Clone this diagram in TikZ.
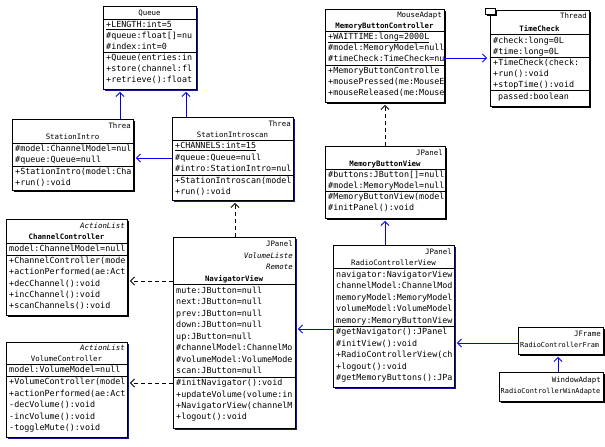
\documentclass[tikz,border=0pt]{standalone}
\usepackage{fontspec}
\newfontfamily\umlfont{DejaVu Sans Mono}
\usetikzlibrary{arrows.meta,fit,shadows}
\definecolor{lnblue}{RGB}{0,0,235}
\definecolor{shblue}{RGB}{20,20,150}
\begin{document}
\begin{tikzpicture}[x=1pt,y=-1pt,
  box/.style={draw=black, line width=0.9pt, fill=white, inner sep=0pt},
  shk/.style={general shadow={fill=black, shadow xshift=1.6pt, shadow yshift=-1.6pt}},
  shb/.style={general shadow={fill=shblue, shadow xshift=1.6pt, shadow yshift=-1.6pt}},
  sep/.style={draw=black, line width=0.9pt},
  mem/.style={anchor=west, inner sep=0pt, font=\fontsize{8.4}{10}\selectfont\umlfont, text height=6pt, text depth=1.5pt},
  hd/.style={anchor=center, inner sep=0pt, font=\fontsize{7.4}{9}\selectfont\umlfont, text height=5.5pt, text depth=1.5pt},
  hdr/.style={hd, anchor=east},
  hdl/.style={hd, anchor=west},
  small/.style={font=\fontsize{6.9}{8}\selectfont\umlfont},
  assoc/.style={draw=lnblue, line width=0.9pt, -{Straight Barb[length=4pt,width=8pt]}, shorten >=2.5pt},
  dep/.style={draw=black, line width=0.9pt, dash pattern=on 4pt off 3pt, -{Straight Barb[length=4pt,width=8pt]}, shorten >=2.5pt},
]
\useasboundingbox (0,0) rectangle (605,447);

% ---------- boxes ----------
\node[box, shb, fit={(103,6) (196,89)}] (queue) {};
\node[box, shk, fit={(12,119) (133,190)}] (si) {};
\node[box, shb, fit={(172,117) (293,200)}] (sis) {};
\node[box, shk, fit={(325,9) (444,102)}] (mbc) {};
\node[box, shk, fit={(490,10) (589,106)}] (tc) {};
\node[box, shk, fit={(485,8) (495,14)}] (tcicon) {};
\node[box, shk, fit={(325,146) (445,218)}] (mbv) {};
\node[box, shk, fit={(6,219) (127,315)}] (cc) {};
\node[box, shb, fit={(173,237) (295,428)}] (nav) {};
\node[box, shb, fit={(6,342) (127,437)}] (vc) {};
\node[box, shb, fit={(333,245) (454,387)}] (rcv) {};
\node[box, shk, fit={(518,327) (603,354)}] (rcf) {};
\node[box, shk, fit={(499,372) (603,401)}] (rcw) {};

% ---------- compartments ----------
\draw[sep] (queue.west |- 0,19) -- (queue.east |- 0,19);
\draw[sep] (queue.west |- 0,52) -- (queue.east |- 0,52);
\draw[sep] (si.west |- 0,143) -- (si.east |- 0,143);
\draw[sep] (si.west |- 0,166) -- (si.east |- 0,166);
\draw[sep] (sis.west |- 0,140) -- (sis.east |- 0,140);
\draw[sep] (sis.west |- 0,175) -- (sis.east |- 0,175);
\draw[sep] (mbc.west |- 0,31) -- (mbc.east |- 0,31);
\draw[sep] (mbc.west |- 0,65) -- (mbc.east |- 0,65);
\draw[sep] (tc.west |- 0,34) -- (tc.east |- 0,34);
\draw[sep] (tc.west |- 0,57) -- (tc.east |- 0,57);
\draw[sep] (tc.west |- 0,90) -- (tc.east |- 0,90);
\draw[sep] (mbv.west |- 0,169) -- (mbv.east |- 0,169);
\draw[sep] (mbv.west |- 0,191) -- (mbv.east |- 0,191);
\draw[sep] (cc.west |- 0,243) -- (cc.east |- 0,243);
\draw[sep] (cc.west |- 0,255) -- (cc.east |- 0,255);
\draw[sep] (nav.west |- 0,284) -- (nav.east |- 0,284);
\draw[sep] (nav.west |- 0,377) -- (nav.east |- 0,377);
\draw[sep] (vc.west |- 0,364) -- (vc.east |- 0,364);
\draw[sep] (vc.west |- 0,376) -- (vc.east |- 0,376);
\draw[sep] (rcv.west |- 0,268) -- (rcv.east |- 0,268);
\draw[sep] (rcv.west |- 0,326) -- (rcv.east |- 0,326);

% ---------- texts ----------
\begin{scope}
\clip (queue.north west) rectangle (queue.south east);
\node[hd] (q0) at (149.5,13) {Queue};
\node[mem] (q1) at (106,25) {\underline{+LENGTH:int=5}};
\node[mem] (q2) at (106,36) {\#queue:float[]=nu};
\node[mem] (q3) at (106,47) {\#index:int=0};
\node[mem] (q4) at (106,58) {+Queue(entries:in};
\node[mem] (q5) at (106,69) {+store(channel:fl};
\node[mem] (q6) at (106,80) {+retrieve():float};
\end{scope}

\begin{scope}
\clip (si.north west) rectangle (si.south east);
\node[hdr] (si0) at (131,126) {Threa};
\node[hd] (si1) at (72.5,137) {StationIntro};
\node[mem] (si2) at (15,149) {\#model:ChannelModel=nul};
\node[mem] (si3) at (15,160) {\#queue:Queue=null};
\node[mem] (si4) at (15,172) {+StationIntro(model:Cha};
\node[mem] (si5) at (15,183) {+run():void};
\end{scope}

\begin{scope}
\clip (sis.north west) rectangle (sis.south east);
\node[hdr] (sis0) at (291,124) {Threa};
\node[hd] (sis1) at (232.5,135) {StationIntroscan};
\node[mem] (sis2) at (175,146) {\underline{+CHANNELS:int=15}};
\node[mem] (sis3) at (175,158) {\#queue:Queue=null};
\node[mem] (sis4) at (175,169) {\#intro:StationIntro=nul};
\node[mem] (sis5) at (175,181) {+StationIntroscan(model};
\node[mem] (sis6) at (175,192) {+run():void};
\end{scope}

\begin{scope}
\clip (mbc.north west) rectangle (mbc.south east);
\node[hdr] (mbc0) at (442,15) {MouseAdapt};
\node[hd, font=\fontsize{7.4}{9}\selectfont\umlfont\bfseries] (mbc1) at (384.5,26) {MemoryButtonController};
\node[mem] (mbc2) at (328,37) {\underline{+WAITTIME:long=2000L}};
\node[mem] (mbc3) at (328,48) {\#model:MemoryModel=null};
\node[mem] (mbc4) at (328,59) {\#timeCheck:TimeCheck=nu};
\node[mem] (mbc5) at (328,71) {+MemoryButtonControlle};
\node[mem] (mbc6) at (328,82) {+mousePressed(me:MouseE};
\node[mem] (mbc7) at (328,93) {+mouseReleased(me:Mouse};
\end{scope}

\begin{scope}
\clip (tc.north west) rectangle (tc.south east);
\node[hdr] (tc0) at (587,17) {Thread};
\node[hd, font=\fontsize{7.4}{9}\selectfont\umlfont\bfseries] (tc1) at (539.5,29) {TimeCheck};
\node[mem] (tc2) at (493,41) {\#check:long=0L};
\node[mem] (tc3) at (493,52) {\#time:long=0L};
\node[mem] (tc4) at (493,63) {+TimeCheck(check:};
\node[mem] (tc5) at (493,74) {+run():void};
\node[mem] (tc6) at (493,85) {+stopTime():void};
\node[mem] (tc7) at (498,97) {passed:boolean};
\end{scope}

\begin{scope}
\clip (mbv.north west) rectangle (mbv.south east);
\node[hdr] (mbv0) at (443,153) {JPanel};
\node[hd, font=\fontsize{7.4}{9}\selectfont\umlfont\bfseries] (mbv1) at (385,164) {MemoryButtonView};
\node[mem] (mbv2) at (328,175) {\#buttons:JButton[]=null};
\node[mem] (mbv3) at (328,186) {\#model:MemoryModel=null};
\node[mem] (mbv4) at (328,197) {\#MemoryButtonView(model};
\node[mem] (mbv5) at (328,208) {\#initPanel():void};
\end{scope}

\begin{scope}
\clip (cc.north west) rectangle (cc.south east);
\node[hdr, font=\fontsize{7.4}{9}\selectfont\umlfont\itshape] (cc0) at (125,226) {ActionList};
\node[hd, font=\fontsize{7.4}{9}\selectfont\umlfont\bfseries] (cc1) at (66.5,237) {ChannelController};
\node[mem] (cc2) at (9,249) {model:ChannelModel=null};
\node[mem] (cc3) at (9,261) {+ChannelController(mode};
\node[mem] (cc4) at (9,272) {+actionPerformed(ae:Act};
\node[mem] (cc5) at (9,284) {+decChannel():void};
\node[mem] (cc6) at (9,295) {+incChannel():void};
\node[mem] (cc7) at (9,306) {+scanChannels():void};
\end{scope}

\begin{scope}
\clip (nav.north west) rectangle (nav.south east);
\node[hdr] (nav0) at (293,244) {JPanel};
\node[hdr, font=\fontsize{7.4}{9}\selectfont\umlfont\itshape] (nav1) at (293,256) {VolumeListe};
\node[hdr, font=\fontsize{7.4}{9}\selectfont\umlfont\itshape] (nav2) at (293,267) {Remote};
\node[hd, font=\fontsize{7.4}{9}\selectfont\umlfont\bfseries] (nav3) at (234,279) {NavigatorView};
\node[mem] (nav4) at (176,291) {mute:JButton=null};
\node[mem] (nav5) at (176,302) {next:JButton=null};
\node[mem] (nav6) at (176,314) {prev:JButton=null};
\node[mem] (nav7) at (176,325) {down:JButton=null};
\node[mem] (nav8) at (176,337) {up:JButton=null};
\node[mem] (nav9) at (176,348) {\#channelModel:ChannelMo};
\node[mem] (nav10) at (176,360) {\#volumeModel:VolumeMode};
\node[mem] (nav11) at (176,371) {scan:JButton=null};
\node[mem] (nav12) at (176,383) {\#initNavigator():void};
\node[mem] (nav13) at (176,395) {+updateVolume(volume:in};
\node[mem] (nav14) at (176,406) {+NavigatorView(channelM};
\node[mem] (nav15) at (176,417) {+logout():void};
\end{scope}

\begin{scope}
\clip (vc.north west) rectangle (vc.south east);
\node[hdr, font=\fontsize{7.4}{9}\selectfont\umlfont\itshape] (vc0) at (125,348) {ActionList};
\node[hd] (vc1) at (66.5,359) {VolumeController};
\node[mem] (vc2) at (9,370) {model:VolumeModel=null};
\node[mem] (vc3) at (9,382) {+VolumeController(model};
\node[mem] (vc4) at (9,394) {+actionPerformed(ae:Act};
\node[mem] (vc5) at (9,405) {-decVolume():void};
\node[mem] (vc6) at (9,417) {-incVolume():void};
\node[mem] (vc7) at (9,428) {-toggleMute():void};
\end{scope}

\begin{scope}
\clip (rcv.north west) rectangle (rcv.south east);
\node[hdr] (rcv0) at (452,252) {JPanel};
\node[hd] (rcv1) at (393.5,263) {RadioControllerView};
\node[mem] (rcv2) at (336,275) {navigator:NavigatorView};
\node[mem] (rcv3) at (336,286) {channelModel:ChannelMod};
\node[mem] (rcv4) at (336,298) {memoryModel:MemoryModel};
\node[mem] (rcv5) at (336,309) {volumeModel:VolumeModel};
\node[mem] (rcv6) at (336,321) {memory:MemoryButtonView};
\node[mem] (rcv7) at (336,332) {\#getNavigator():JPanel};
\node[mem] (rcv8) at (336,344) {\#initView():void};
\node[mem] (rcv9) at (336,355) {+RadioControllerView(ch};
\node[mem] (rcv10) at (336,367) {+logout():void};
\node[mem] (rcv11) at (336,378) {\#getMemoryButtons():JPa};
\end{scope}

\begin{scope}
\clip (rcf.north west) rectangle (rcf.south east);
\node[hdr] (rcf0) at (601,334) {JFrame};
\node[hdl, small] (rcf1) at (520,345) {RadioControllerFram};
\end{scope}

\begin{scope}
\clip (rcw.north west) rectangle (rcw.south east);
\node[hdr] (rcw0) at (601,380) {WindowAdapt};
\node[hdl, small] (rcw1) at (500.5,391) {RadioControllerWinAdapte};
\end{scope}

% ---------- connectors ----------
\draw[assoc] (120,0 |- si.north) -- (120,0 |- queue.south);
\draw[assoc] (186,0 |- sis.north) -- (186,0 |- queue.south);
\draw[assoc] (sis.west |- 0,158) -- (si.east |- 0,158);
\draw[dep] (235,0 |- nav.north) -- (235,0 |- sis.south);
\draw[dep] (nav.west |- 0,281) -- (cc.east |- 0,281);
\draw[dep] (nav.west |- 0,383) -- (vc.east |- 0,383);
\draw[assoc] (rcv.west |- 0,329) -- (nav.east |- 0,329);
\draw[assoc] (385,0 |- rcv.north) -- (385,0 |- mbv.south);
\draw[dep] (385,0 |- mbv.north) -- (385,0 |- mbc.south);
\draw[assoc] (mbc.east |- 0,58) -- (tc.west |- 0,58);
\draw[assoc] (rcf.west |- 0,343) -- (rcv.east |- 0,343);
\draw[assoc] (558,0 |- rcw.north) -- (558,0 |- rcf.south);
\end{tikzpicture}
\end{document}
